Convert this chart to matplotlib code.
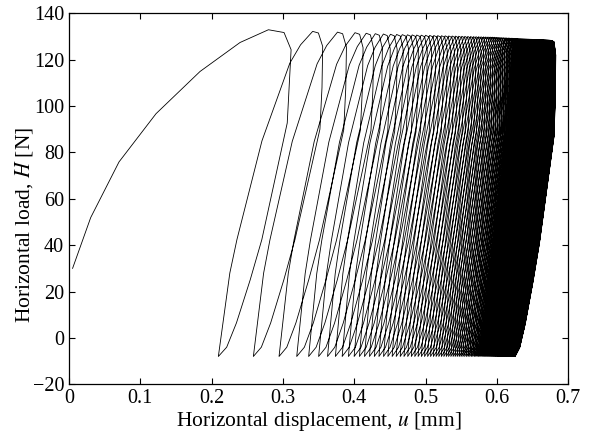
import numpy as np
import matplotlib
matplotlib.use("Agg")
import matplotlib.pyplot as plt

plt.rcParams['font.family'] = ['Liberation Serif', 'DejaVu Serif']
plt.rcParams['mathtext.fontset'] = 'stix'

# ---- data ----
# first (virgin) loading branch and start of first unloading
first_u = [0.005, 0.0304, 0.0701, 0.122, 0.1837, 0.2398, 0.2796, 0.3015, 0.3114, 0.306]
first_H = [30.0, 51.9, 75.9, 96.7, 114.9, 127.4, 132.9, 131.7, 124.3, 92.7]

# displacement at the lower turning point (H = H_min) of every cycle
valley_u = [
    0.2094, 0.2585, 0.2945, 0.3193, 0.3360, 0.3500, 0.3625, 0.3735, 0.3830, 0.3918, 0.3998, 0.4072,
    0.4143, 0.4213, 0.4281, 0.4346, 0.4410, 0.4471, 0.4531, 0.4588, 0.4644, 0.4697,
    0.4749, 0.4800, 0.4848, 0.4895, 0.4941, 0.4985, 0.5028, 0.5069, 0.5109, 0.5147,
    0.5185, 0.5221, 0.5256, 0.5290, 0.5322, 0.5354, 0.5385, 0.5414, 0.5443, 0.5471,
    0.5497, 0.5523, 0.5548, 0.5573, 0.5596, 0.5619, 0.5641, 0.5662, 0.5683, 0.5703,
    0.5722, 0.5741, 0.5759, 0.5776, 0.5793, 0.5809, 0.5825, 0.5840, 0.5855, 0.5869,
    0.5883, 0.5896, 0.5909, 0.5922, 0.5934, 0.5946, 0.5957, 0.5968, 0.5978, 0.5989,
    0.5999, 0.6008, 0.6017, 0.6026, 0.6035, 0.6043, 0.6052, 0.6059, 0.6067, 0.6074,
    0.6082, 0.6088, 0.6095, 0.6102, 0.6108, 0.6114, 0.6120, 0.6125, 0.6131, 0.6136,
    0.6141, 0.6146, 0.6151, 0.6155, 0.6160, 0.6164, 0.6168, 0.6173, 0.6176, 0.6180,
    0.6184, 0.6187, 0.6191, 0.6194, 0.6197, 0.6200, 0.6203, 0.6206, 0.6209, 0.6212,
    0.6215, 0.6217, 0.6220, 0.6222, 0.6224, 0.6227, 0.6229, 0.6231, 0.6233, 0.6235,
    0.6237, 0.6239, 0.6240, 0.6242, 0.6244, 0.6245, 0.6247, 0.6248, 0.6250, 0.6251,
    0.6252, 0.6254, 0.6255]
H_min = -8.0

# shape of one loop, read from cycle 2 (fractions of the loop width)
load_frac = [0.0, 0.11, 0.178, 0.418, 0.685, 0.788, 0.904, 0.959, 1.0]
load_H = [-8.0, 28.0, 42.4, 85.0, 118.5, 126.4, 132.2, 131.5, 125.7]
unload_frac = [0.99, 0.96, 0.60, 0.44, 0.25, 0.115, 0.0]
unload_H = [108.0, 90.0, 42.4, 25.1, 6.5, -4.0, -8.0]

# unloading width (top -> valley) read at a few cycles, vs valley position
width_at_u = [0.2094, 0.2585, 0.2945, 0.3193, 0.6255]
width_val = [0.1016, 0.0972, 0.0945, 0.0930, 0.0570]
# peak load read along the top envelope, vs start of loading
peak_at_u = [0.2094, 0.300, 0.355, 0.530, 0.625]
peak_val = [132.2, 131.6, 131.0, 129.7, 128.3]

# ---- build the load path ----
u = list(first_u)
H = list(first_H)
w1 = width_val[0]
for f, h in zip(unload_frac[2:], unload_H[2:]):
    u.append(valley_u[0] + w1 * f)
    H.append(h)

ref_peak = load_H[6]
for k in range(1, len(valley_u)):
    start = valley_u[k - 1]
    end = valley_u[k]
    w = np.interp(end, width_at_u, width_val)
    L = end + w - start
    pk = np.interp(start, peak_at_u, peak_val)
    sc = (pk - H_min) / (ref_peak - H_min)
    for f, h in zip(load_frac[1:], load_H[1:]):
        u.append(start + L * f)
        H.append(H_min + (h - H_min) * sc)
    for f, h in zip(unload_frac, unload_H):
        u.append(end + w * f)
        H.append(H_min + (h - H_min) * sc)

fig = plt.figure(figsize=(5.95, 4.37), dpi=100)
ax = fig.add_axes([0.116, 0.1206, 0.839, 0.849])
ax.plot(u, H, color='black', lw=0.6)

ax.set_xlim(0, 0.7)
ax.set_ylim(-20, 140)
ax.set_xticks(np.arange(0, 0.71, 0.1))
ax.set_xticklabels(['0', '0.1', '0.2', '0.3', '0.4', '0.5', '0.6', '0.7'])
ax.set_yticks(np.arange(-20, 141, 20))
ax.tick_params(direction='in', length=4.5, width=0.8, top=True, right=True,
               labelsize=14.5)
ax.tick_params(axis='x', pad=3.5)
ax.tick_params(axis='y', pad=3.5)
for s in ax.spines.values():
    s.set_linewidth(0.9)
ax.set_xlabel(r'Horizontal displacement, $u$ [mm]', fontsize=15.5, va='center')
ax.set_ylabel(r'Horizontal load, $H$ [N]', fontsize=15.5, va='center')
ax.xaxis.set_label_coords(0.5, -0.099)
ax.yaxis.set_label_coords(-0.091, 0.429)

fig.savefig('out.png', dpi=100)
